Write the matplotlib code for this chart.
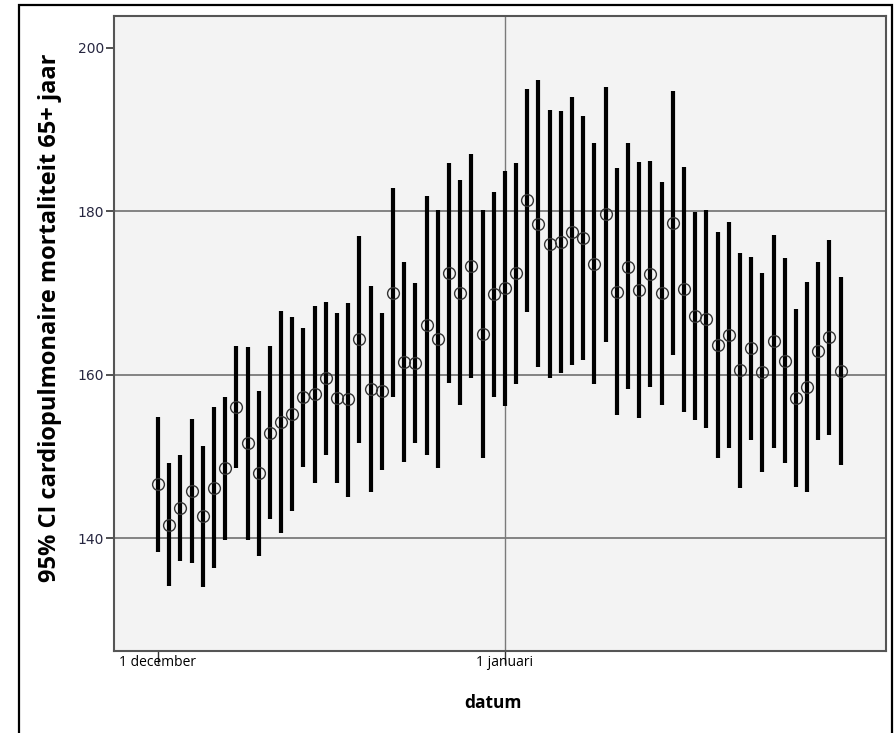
import numpy as np
import pandas as pd
import matplotlib
matplotlib.use("Agg")
import matplotlib.pyplot as plt
from matplotlib.patches import Rectangle

# daily 95% CI, 1 december - 31 januari
dates = pd.date_range("2010-12-01", "2011-01-31", freq="D")

mean = [146.6, 141.6, 143.7, 145.8, 142.7, 146.1, 148.6, 156.1, 151.7, 148.0,
        152.9, 154.2, 155.2, 157.3, 157.6, 159.6, 157.2, 157.0, 164.4, 158.3,
        158.0, 170.0, 161.6, 161.4, 166.1, 164.4, 172.5, 170.0, 173.3, 165.0,
        169.9, 170.6, 172.5, 181.4, 178.5, 176.0, 176.3, 177.5, 176.7, 173.6,
        179.7, 170.1, 173.2, 170.4, 172.3, 170.0, 178.6, 170.5, 167.2, 166.8,
        163.6, 164.9, 160.6, 163.3, 160.3, 164.1, 161.7, 157.2, 158.5, 162.9,
        164.6, 160.5]
upper = [154.8, 149.2, 150.2, 154.6, 151.3, 156.1, 157.3, 163.5, 163.4, 158.0,
         163.5, 167.8, 167.1, 165.7, 168.4, 168.9, 167.6, 168.8, 177.0, 170.9,
         167.6, 182.9, 173.8, 171.2, 181.9, 180.2, 185.9, 183.8, 187.0, 180.2,
         182.4, 184.9, 185.9, 195.0, 196.1, 192.4, 192.3, 194.0, 191.7, 188.4,
         195.2, 185.3, 188.4, 186.0, 186.2, 183.6, 194.7, 185.4, 179.9, 180.2,
         177.5, 178.7, 174.9, 174.4, 172.5, 177.1, 174.3, 168.1, 171.4, 173.8,
         176.5, 172.0]
lower = [138.3, 134.1, 137.2, 137.0, 134.0, 136.4, 139.8, 148.6, 139.8, 137.8,
         142.4, 140.6, 143.3, 148.7, 146.8, 150.2, 146.8, 145.0, 151.7, 145.7,
         148.3, 157.3, 149.3, 151.7, 150.2, 148.6, 159.0, 156.3, 159.6, 149.8,
         157.3, 156.2, 158.9, 167.7, 160.9, 159.6, 160.2, 161.2, 161.8, 158.9,
         164.0, 155.1, 158.3, 154.7, 158.5, 156.3, 162.4, 155.4, 154.5, 153.5,
         149.8, 151.0, 146.1, 152.0, 148.1, 151.0, 149.2, 146.3, 145.7, 152.0,
         152.6, 149.0]

yticks = [140, 160, 180, 200]
xtick_dates = [pd.Timestamp("2010-12-01"), pd.Timestamp("2011-01-01")]
xtick_labels = ["1 december", "1 januari"]

fig = plt.figure(figsize=(8.95, 7.33), dpi=100)
W, H = 895, 733

# outer frame
fig.patches.append(Rectangle((19 / W, -0.01), (892 - 19) / W, 1 - 5 / H + 0.01,
                             transform=fig.transFigure, fill=False,
                             edgecolor="black", lw=1.6))

ax = fig.add_axes([114 / W, 1 - 651 / H, (886 - 114) / W, (651 - 16) / H])
ax.set_facecolor("#f3f3f3")

for y in yticks[:-1]:
    ax.axhline(y, color="#7a7a7a", lw=1.3, zorder=1)
ax.axvline(xtick_dates[1], color="#7a7a7a", lw=1.0, zorder=1)

ax.vlines(dates, lower, upper, color="black", lw=3.0, zorder=3)
ax.plot(dates, mean, "o", mfc="none", mec="#333333", ms=8.5, mew=1.0, zorder=4)

ax.set_ylim(126.2, 203.9)
ax.set_xlim(dates[0] - pd.Timedelta(days=3.93), dates[0] + pd.Timedelta(days=65.05))

ax.set_yticks(yticks)
ax.set_yticklabels([str(v) for v in yticks], fontsize=10, color="#262640",
                   family="DejaVu Sans")
ax.tick_params(axis="y", length=6, width=1.2, color="#333333", pad=1)

ax.set_xticks(xtick_dates)
ax.set_xticklabels(xtick_labels, fontsize=10, family="Open Sans", color="black")
ax.tick_params(axis="x", length=9, width=1.0, color="#333333", pad=-6)

for s in ax.spines.values():
    s.set_color("#555555")
    s.set_linewidth(1.5)

fig.text(50 / W, 1 - 318 / H, "95% CI cardiopulmonaire mortaliteit 65+ jaar",
         rotation=90, ha="center", va="center", fontsize=17,
         fontweight="bold", family="Open Sans")
fig.text(493 / W, 1 - 703 / H, "datum", ha="center", va="center",
         fontsize=12.5, fontweight="bold", family="Open Sans")

fig.savefig("out.png", dpi=100)
